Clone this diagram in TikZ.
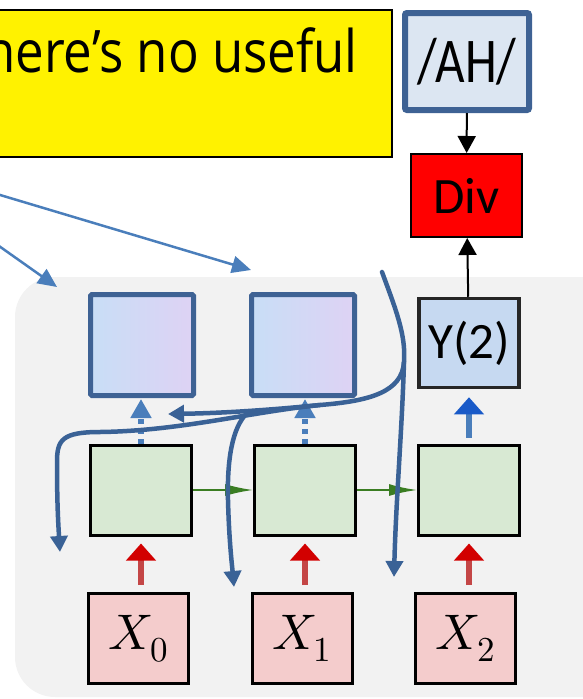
\documentclass[tikz,border=0pt]{standalone}
\usepackage{fontspec}
\usepackage{unicode-math}
\setmainfont{Carlito}
\setmathfont{Latin Modern Math}
\newfontfamily\notefont{Open Sans}
\usepackage{graphicx}
\usepackage{tikz}
\usetikzlibrary{arrows.meta}
\usetikzlibrary{positioning}

\definecolor{steel}{RGB}{62,98,148}
\definecolor{pen}{RGB}{58,98,150}
\definecolor{skyarrow}{RGB}{74,126,187}
\definecolor{ahfill}{RGB}{220,230,242}
\definecolor{yfill}{RGB}{198,217,241}
\definecolor{hidfill}{RGB}{216,233,211}
\definecolor{infill}{RGB}{244,204,204}
\definecolor{bggray}{RGB}{242,242,242}
\definecolor{leafgreen}{RGB}{58,125,34}
\definecolor{redshaft}{RGB}{196,70,70}
\definecolor{redhead}{RGB}{210,0,0}
\definecolor{bluehead}{RGB}{25,90,200}
\definecolor{memL}{RGB}{200,222,246}
\definecolor{memR}{RGB}{222,210,244}

\begin{document}
\begin{tikzpicture}[x=1pt,y=-1pt]
  \tikzset{cell/.style = {shape=rectangle,draw,line width=3pt,minimum width=101pt,minimum height=90pt,inner sep=0pt}}
  \tikzset{hidcell/.style = {cell, fill=hidfill}}
  \tikzset{incell/.style = {cell, minimum width=100pt, fill=infill, font=\fontsize{50}{60}\selectfont}}
  \tikzset{outcell/.style = {cell, draw=black!85, line width=3.5pt, minimum width=100pt, minimum height=89pt, fill=yfill, font=\fontsize{51}{60}\selectfont}}
  \tikzset{memcell/.style = {shape=rectangle,draw=steel,line width=5pt,minimum width=103pt,minimum height=101pt,rounded corners=1.5pt,left color=memL,right color=memR}}
  \tikzset{ahbox/.style = {shape=rectangle,draw=steel,line width=6pt,fill=ahfill,minimum width=124pt,minimum height=97pt,rounded corners=2pt,font=\fontsize{51}{60}\selectfont}}
  \tikzset{divbox/.style = {shape=rectangle,draw,line width=2pt,fill=red,minimum width=111pt,minimum height=83pt,font=\fontsize{51}{60}\selectfont}}
  \tikzset{note/.style = {shape=rectangle,draw,line width=2pt,fill=yellow,minimum width=700pt,minimum height=147pt}}
  \tikzset{notetext/.style = {inner sep=0pt,font=\notefont\fontsize{51}{60}\selectfont}}
  \tikzset{%
  tipK/.tip={Triangle[length=17pt,width=18pt]},
  tipR/.tip={Triangle[length=17pt,width=29pt,color=redhead]},
  tipB/.tip={Triangle[length=17pt,width=29pt,color=bluehead]},
  tipS/.tip={Triangle[length=19pt,width=20pt,color=skyarrow]},
  tipG/.tip={Latex[length=28pt,width=12pt,color=leafgreen]},
  tipP/.tip={Triangle[length=16pt,width=17pt]},
  tipT/.tip={Triangle[length=19pt,width=17pt]},
}
  \tikzset{edgeK/.style = {-tipK, line width=2pt}}
  \tikzset{edgeR/.style = {-tipR, draw=redshaft, line width=6pt}}
  \tikzset{edgeB/.style = {-tipB, draw=skyarrow, line width=6pt}}
  \tikzset{edgeS/.style = {-tipS, draw=skyarrow, line width=6pt, dash pattern=on 5pt off 5pt}}
  \tikzset{edgeG/.style = {-tipG, draw=leafgreen, line width=2pt}}
  \tikzset{penline/.style = {-tipP, draw=pen, line width=4.5pt, line cap=round}}
  \tikzset{thinline/.style = {-tipT, draw=skyarrow, line width=2.5pt}}

  \useasboundingbox (0,0) rectangle (583,699);
  \clip (0,0) rectangle (583,699);

  % panel
  \fill[bggray, rounded corners=40pt] (15,277) rectangle (650,697);

  % note
  \node[note, anchor=north east] (note) at (393,9) {};
  \node[notetext, anchor=base east] (notetxt) at (358,72) {\scalebox{1}[1.15]{There’s no useful}};
  \coordinate (src) at (-127,157);
  \coordinate (aim0) at (57,287);
  \coordinate (aim1) at (251,270);
  \foreach \to in {aim0, aim1}
    \draw[thinline] (src) -- (\to);

  \node[ahbox] (AH) at (467,61.5) {\scalebox{1}[1.25]{/AH/}};
  \node[divbox] (Div) at (466.5,195.5) {Div};

  \node[memcell] (M0) at (142,345) {};
  \node[memcell] (M1) at (303,345) {};
  \node[outcell] (Y) at (469,343) {Y(2)};

  \node[hidcell] (H0) at (141,490) {};
  \node[hidcell] (H1) at (305,490) {};
  \node[hidcell] (H2) at (469,490) {};

  \node[incell] (X0) at (138.5,638.5) {$X_0$};
  \node[incell] (X1) at (302,638.5) {$X_1$};
  \node[incell] (X2) at (465.5,638.5) {$X_2$};

  \draw[edgeK] (AH) -- (Div);
  \draw[edgeK] (Y) -- (Div);

  \foreach \from/\to in {X0/H0, X1/H1, X2/H2}
    \draw[edgeR, shorten <=7pt, shorten >=7pt] (\to |- \from.north) -- (\to.south);

  \foreach \from/\to in {H0/M0, H1/M1}
    \draw[edgeS, shorten >=1pt] (\from.north) -- (\from.north |- \to.south);

  \draw[edgeB, shorten <=6pt, shorten >=8pt] (H2) -- (Y);

  \foreach \from/\to in {H0/H1, H1/H2}
    \draw[edgeG] (\from) -- (\to);

  % hand-drawn strokes
  \coordinate (p0) at (382,272);
  \coordinate (fork) at (404,362);
  \coordinate (m1) at (320,405);
  \coordinate (m2) at (247,413);
  \coordinate (e0) at (394,577);
  \coordinate (e1) at (168,414);
  \coordinate (e2) at (60,552);
  \coordinate (e3) at (234,587);
  \draw[penline] (p0) .. controls (396,310) and (406,335) .. (fork) .. controls (402,430) and (396,500) .. (e0);
  \draw[penline] (fork) .. controls (402,392) and (370,401) .. (m1) .. controls (280,409) and (230,413) .. (e1);
  \draw[penline] (m1) .. controls (250,412) and (180,431) .. (100,432) .. controls (62,432) and (57,440) .. (57,462) .. controls (57,500) and (58,520) .. (e2);
  \draw[penline] (m2) .. controls (232,428) and (227,460) .. (228,500) .. controls (229,540) and (232,565) .. (e3);
\end{tikzpicture}
\end{document}
